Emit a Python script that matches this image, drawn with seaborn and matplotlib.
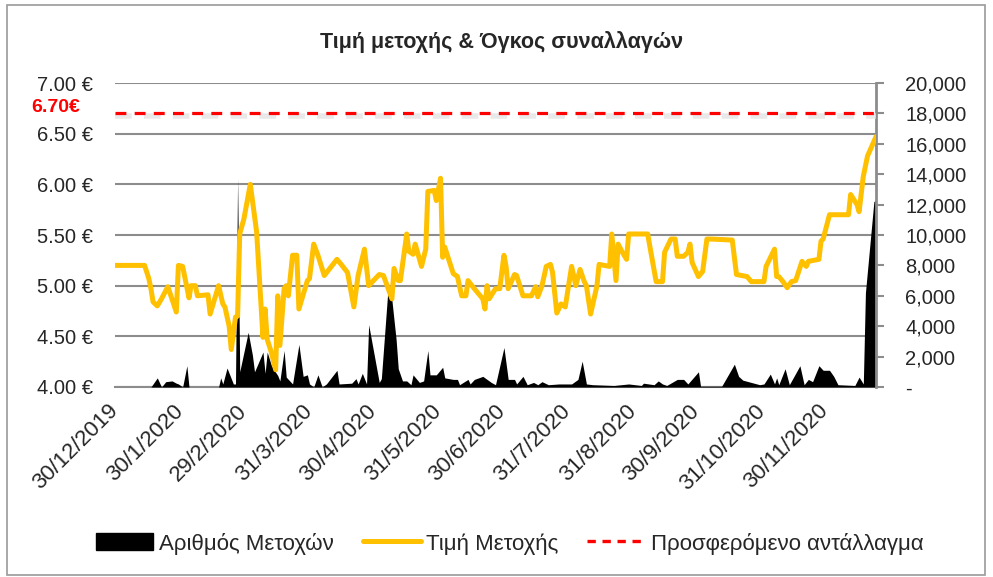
import pandas as pd
import matplotlib.pyplot as plt
from matplotlib.lines import Line2D
from matplotlib.patches import Patch, Rectangle
from matplotlib.ticker import StrMethodFormatter, FuncFormatter
import seaborn as sns

sns.set_style("white")
plt.rcParams["font.family"] = ["Liberation Sans", "DejaVu Sans"]

# share price (EUR)
price_dates = [
    "2019-12-30", "2020-01-13", "2020-01-15", "2020-01-16", "2020-01-17", "2020-01-19", "2020-01-21", "2020-01-24", "2020-01-28", "2020-01-29", "2020-01-31",
    "2020-02-03", "2020-02-04", "2020-02-06", "2020-02-07", "2020-02-12", "2020-02-13", "2020-02-17", "2020-02-19", "2020-02-20", "2020-02-22", "2020-02-23", "2020-02-25", "2020-02-26", "2020-02-27", "2020-02-29",
    "2020-03-03", "2020-03-06", "2020-03-09", "2020-03-10", "2020-03-11", "2020-03-13", "2020-03-15", "2020-03-16", "2020-03-17", "2020-03-19", "2020-03-20", "2020-03-21", "2020-03-23", "2020-03-25", "2020-03-26", "2020-03-30", "2020-03-31",
    "2020-04-02", "2020-04-04", "2020-04-07", "2020-04-13", "2020-04-15", "2020-04-18", "2020-04-21", "2020-04-23", "2020-04-26", "2020-04-28",
    "2020-05-03", "2020-05-05", "2020-05-09", "2020-05-10", "2020-05-12", "2020-05-13", "2020-05-16", "2020-05-17", "2020-05-19", "2020-05-20", "2020-05-23", "2020-05-25", "2020-05-26", "2020-05-29", "2020-05-30",
    "2020-06-01", "2020-06-02", "2020-06-03", "2020-06-07", "2020-06-09", "2020-06-11", "2020-06-13", "2020-06-14", "2020-06-17", "2020-06-21", "2020-06-22", "2020-06-23", "2020-06-24", "2020-06-27", "2020-06-29",
    "2020-07-01", "2020-07-02", "2020-07-03", "2020-07-06", "2020-07-07", "2020-07-10", "2020-07-14", "2020-07-16", "2020-07-17", "2020-07-19", "2020-07-21", "2020-07-23", "2020-07-24", "2020-07-26", "2020-07-28", "2020-07-30",
    "2020-08-02", "2020-08-04", "2020-08-06", "2020-08-08", "2020-08-09", "2020-08-11", "2020-08-14", "2020-08-15", "2020-08-20", "2020-08-21", "2020-08-23", "2020-08-24", "2020-08-26", "2020-08-28", "2020-08-29",
    "2020-09-07", "2020-09-08", "2020-09-11", "2020-09-14", "2020-09-15", "2020-09-18", "2020-09-20", "2020-09-21", "2020-09-24", "2020-09-26", "2020-09-27", "2020-09-28",
    "2020-10-01", "2020-10-03", "2020-10-05", "2020-10-07", "2020-10-17", "2020-10-19", "2020-10-24", "2020-10-26",
    "2020-11-01", "2020-11-02", "2020-11-06", "2020-11-07", "2020-11-08", "2020-11-10", "2020-11-12", "2020-11-14", "2020-11-16", "2020-11-19", "2020-11-21", "2020-11-22", "2020-11-27", "2020-11-28", "2020-11-29",
    "2020-12-02", "2020-12-11", "2020-12-12", "2020-12-15", "2020-12-16", "2020-12-18", "2020-12-20", "2020-12-24",
]
price_values = [
    5.20, 5.20, 5.07, 4.97, 4.84, 4.80, 4.87, 4.99, 4.74, 5.20, 5.19,
    4.88, 5.00, 5.00, 4.90, 4.91, 4.72, 5.00, 4.82, 4.79, 4.60, 4.37, 4.69, 4.70, 5.51, 5.66,
    6.00, 5.53, 4.49, 4.77, 4.47, 4.34, 4.17, 4.90, 4.41, 4.97, 5.00, 4.90, 5.30, 5.30, 4.77, 5.05, 5.07,
    5.41, 5.30, 5.10, 5.26, 5.21, 5.13, 4.79, 5.10, 5.36, 5.00,
    5.11, 5.10, 4.87, 5.17, 5.05, 5.05, 5.51, 5.34, 5.31, 5.41, 5.19, 5.36, 5.93, 5.94, 5.84,
    6.06, 5.28, 5.38, 5.12, 5.09, 4.90, 4.90, 5.05, 4.97, 4.87, 4.77, 5.00, 4.87, 4.97, 4.97,
    5.30, 5.19, 4.97, 5.11, 5.10, 4.90, 4.90, 4.99, 4.89, 5.00, 5.19, 5.21, 5.13, 4.73, 4.82, 4.79,
    5.19, 5.00, 5.16, 5.04, 5.00, 4.72, 5.00, 5.21, 5.19, 5.51, 5.05, 5.41, 5.33, 5.26, 5.51,
    5.51, 5.39, 5.04, 5.04, 5.33, 5.46, 5.46, 5.29, 5.29, 5.33, 5.41, 5.23,
    5.09, 5.14, 5.46, 5.46, 5.45, 5.11, 5.09, 5.04,
    5.04, 5.19, 5.36, 5.09, 5.09, 5.04, 4.98, 5.04, 5.05, 5.24, 5.19, 5.24, 5.26, 5.44, 5.46,
    5.70, 5.70, 5.90, 5.80, 5.73, 6.08, 6.28, 6.47,
]

# number of shares traded
volume_dates = [
    "2019-12-30", "2020-01-16", "2020-01-19", "2020-01-21", "2020-01-23", "2020-01-26", "2020-01-28", "2020-01-29", "2020-01-31",
    "2020-02-02", "2020-02-03", "2020-02-17", "2020-02-18", "2020-02-19", "2020-02-21", "2020-02-24", "2020-02-25", "2020-02-26", "2020-02-27",
    "2020-03-02", "2020-03-04", "2020-03-05", "2020-03-09", "2020-03-10", "2020-03-11", "2020-03-13", "2020-03-16", "2020-03-17", "2020-03-19", "2020-03-20", "2020-03-23", "2020-03-26", "2020-03-28", "2020-03-30", "2020-03-31",
    "2020-04-02", "2020-04-04", "2020-04-06", "2020-04-08", "2020-04-13", "2020-04-14", "2020-04-20", "2020-04-22", "2020-04-23", "2020-04-25", "2020-04-27", "2020-04-28",
    "2020-05-03", "2020-05-04", "2020-05-07", "2020-05-09", "2020-05-11", "2020-05-12", "2020-05-14", "2020-05-16", "2020-05-18", "2020-05-19", "2020-05-22", "2020-05-24", "2020-05-26", "2020-05-27", "2020-05-30",
    "2020-06-02", "2020-06-03", "2020-06-07", "2020-06-09", "2020-06-10", "2020-06-14", "2020-06-15", "2020-06-17", "2020-06-19", "2020-06-21", "2020-06-25", "2020-06-27",
    "2020-07-01", "2020-07-03", "2020-07-06", "2020-07-07", "2020-07-10", "2020-07-12", "2020-07-15", "2020-07-17", "2020-07-19", "2020-07-22", "2020-07-27",
    "2020-08-02", "2020-08-05", "2020-08-07", "2020-08-09", "2020-08-12", "2020-08-22", "2020-08-29",
    "2020-09-04", "2020-09-05", "2020-09-10", "2020-09-12", "2020-09-14", "2020-09-16", "2020-09-21", "2020-09-24", "2020-09-26",
    "2020-10-01", "2020-10-02", "2020-10-12", "2020-10-18", "2020-10-20", "2020-10-22", "2020-10-26", "2020-10-30",
    "2020-11-01", "2020-11-04", "2020-11-06", "2020-11-07", "2020-11-08", "2020-11-11", "2020-11-13", "2020-11-18", "2020-11-20", "2020-11-22", "2020-11-24", "2020-11-27", "2020-11-29",
    "2020-12-02", "2020-12-04", "2020-12-06", "2020-12-14", "2020-12-16", "2020-12-18", "2020-12-19", "2020-12-23", "2020-12-24",
]
volume_values = [
    0, 0, 600, 0, 350, 400, 250, 200, 0,
    1400, 0, 0, 600, 200, 1250, 200, 200, 13700, 1000,
    3600, 2100, 1000, 2300, 900, 2300, 1400, 750, 400, 2400, 650, 200, 2800, 700, 800, 200,
    0, 800, 0, 200, 1100, 200, 250, 550, 200, 900, 200, 4100,
    300, 550, 6200, 5700, 3100, 1200, 400, 400, 150, 800, 300, 400, 2400, 800, 800,
    1300, 600, 500, 500, 150, 500, 200, 500, 600, 700, 300, 150,
    2600, 500, 500, 200, 700, 150, 300, 150, 350, 150, 200,
    200, 500, 1700, 200, 150, 100, 200,
    100, 250, 150, 400, 200, 100, 500, 500, 200,
    1000, 50, 50, 1500, 700, 450, 300, 150,
    200, 850, 200, 600, 150, 1200, 150, 1400, 150, 500, 350, 1400, 1100,
    1100, 700, 150, 100, 650, 200, 6200, 12200, 12300,
]

offer_price = 6.70
tick_labels = ["30/12/2019", "30/1/2020", "29/2/2020", "31/3/2020", "30/4/2020", "31/5/2020",
               "30/6/2020", "31/7/2020", "31/8/2020", "30/9/2020", "31/10/2020", "30/11/2020"]

price = pd.DataFrame({"date": pd.to_datetime(price_dates), "price": price_values})
volume = pd.DataFrame({"date": pd.to_datetime(volume_dates), "shares": volume_values})
tick_dates = pd.to_datetime(tick_labels, format="%d/%m/%Y")

GOLD = "#FFC000"
GRID = "#8C8C8C"

fig = plt.figure(figsize=(9.93, 5.77), dpi=100)
fig.patches.append(Rectangle((7 / 993, 2 / 577), 978 / 993, 570 / 577, transform=fig.transFigure,
                             fill=False, edgecolor="#9a9a9a", lw=1.2))

ax = fig.add_axes([115 / 993, 190 / 577, 761 / 993, 304 / 577])
ax_vol = ax.twinx()
ax_line = ax.twinx()

# price axis (left) with gridlines
ax.set_ylim(4, 7)
ax.set_yticks([4.0, 4.5, 5.0, 5.5, 6.0, 6.5, 7.0])
ax.yaxis.set_major_formatter(StrMethodFormatter("{x:.2f} €"))
ax.grid(axis="y", color=GRID, lw=1.5)
ax.grid(axis="x", visible=False)
ax.tick_params(axis="y", length=0, pad=16, labelsize=14.5)
for s in ["top", "left", "right"]:
    ax.spines[s].set_visible(False)
ax.spines["bottom"].set_color(GRID)
ax.spines["bottom"].set_linewidth(1.5)

# volume area (right axis)
ax_vol.fill_between(volume["date"], volume["shares"], color="black", lw=0)
ax_vol.set_ylim(0, 20000)
ax_vol.set_yticks(range(0, 20001, 2000))
ax_vol.yaxis.set_major_formatter(FuncFormatter(lambda v, p: "-" if v == 0 else f"{int(v):,}"))
ax_vol.tick_params(axis="y", length=6, width=1.5, color=GRID, pad=15, labelsize=14.5, direction="out")
for s in ["top", "left", "bottom"]:
    ax_vol.spines[s].set_visible(False)
ax_vol.spines["right"].set_color(GRID)
ax_vol.spines["right"].set_linewidth(2)

# price line + offer on top
ax_line.set_ylim(4, 7)
ax_line.axhline(offer_price - 0.03, color="#e4e4e4", lw=4, ls=(0, (3, 2.2)), alpha=0.8)
ax_line.axhline(offer_price, color="#FF0000", lw=2.3, ls=(0, (3.4, 2.6)))
sns.lineplot(data=price, x="date", y="price", ax=ax_line, color=GOLD, lw=3.6, legend=False)
ax_line.yaxis.set_visible(False)
for s in ax_line.spines.values():
    s.set_visible(False)

ax.set_xlim(pd.Timestamp("2019-12-30"), pd.Timestamp("2020-12-24"))
ax.set_xticks(tick_dates)
ax.set_xticklabels(tick_labels, rotation=45, ha="right", va="center", rotation_mode="anchor", fontsize=16)
ax.tick_params(axis="x", length=0, pad=15)
ax.set_xlabel("")
ax.set_ylabel("")
ax_line.set_xlabel("")
ax_line.set_ylabel("")

ax.annotate(f"{offer_price:.2f}€", xy=(0, offer_price), xycoords=("axes fraction", "data"),
            xytext=(-25, 4.5), textcoords="offset points", ha="right", va="center",
            color="#FF0000", fontweight="bold", fontsize=14)

fig.text(0.505, 0.927, "Τιμή μετοχής & Όγκος συναλλαγών", ha="center", va="center",
         fontsize=15.5, fontweight="bold")

handles = [Patch(facecolor="black", edgecolor="black"),
           Line2D([], [], color=GOLD, lw=3.6),
           Line2D([], [], color="#FF0000", lw=2.4, ls=(0, (2.5, 2)))]
fig.legend(handles, ["Αριθμός Μετοχών", "Τιμή Μετοχής", "Προσφερόμενο αντάλλαγμα"],
           loc="center", bbox_to_anchor=(0.513, 0.058), ncol=3, frameon=False,
           fontsize=16, handlelength=2.6, handleheight=0.8, handletextpad=0.25, columnspacing=1.3)

fig.savefig("out.png", dpi=100)
